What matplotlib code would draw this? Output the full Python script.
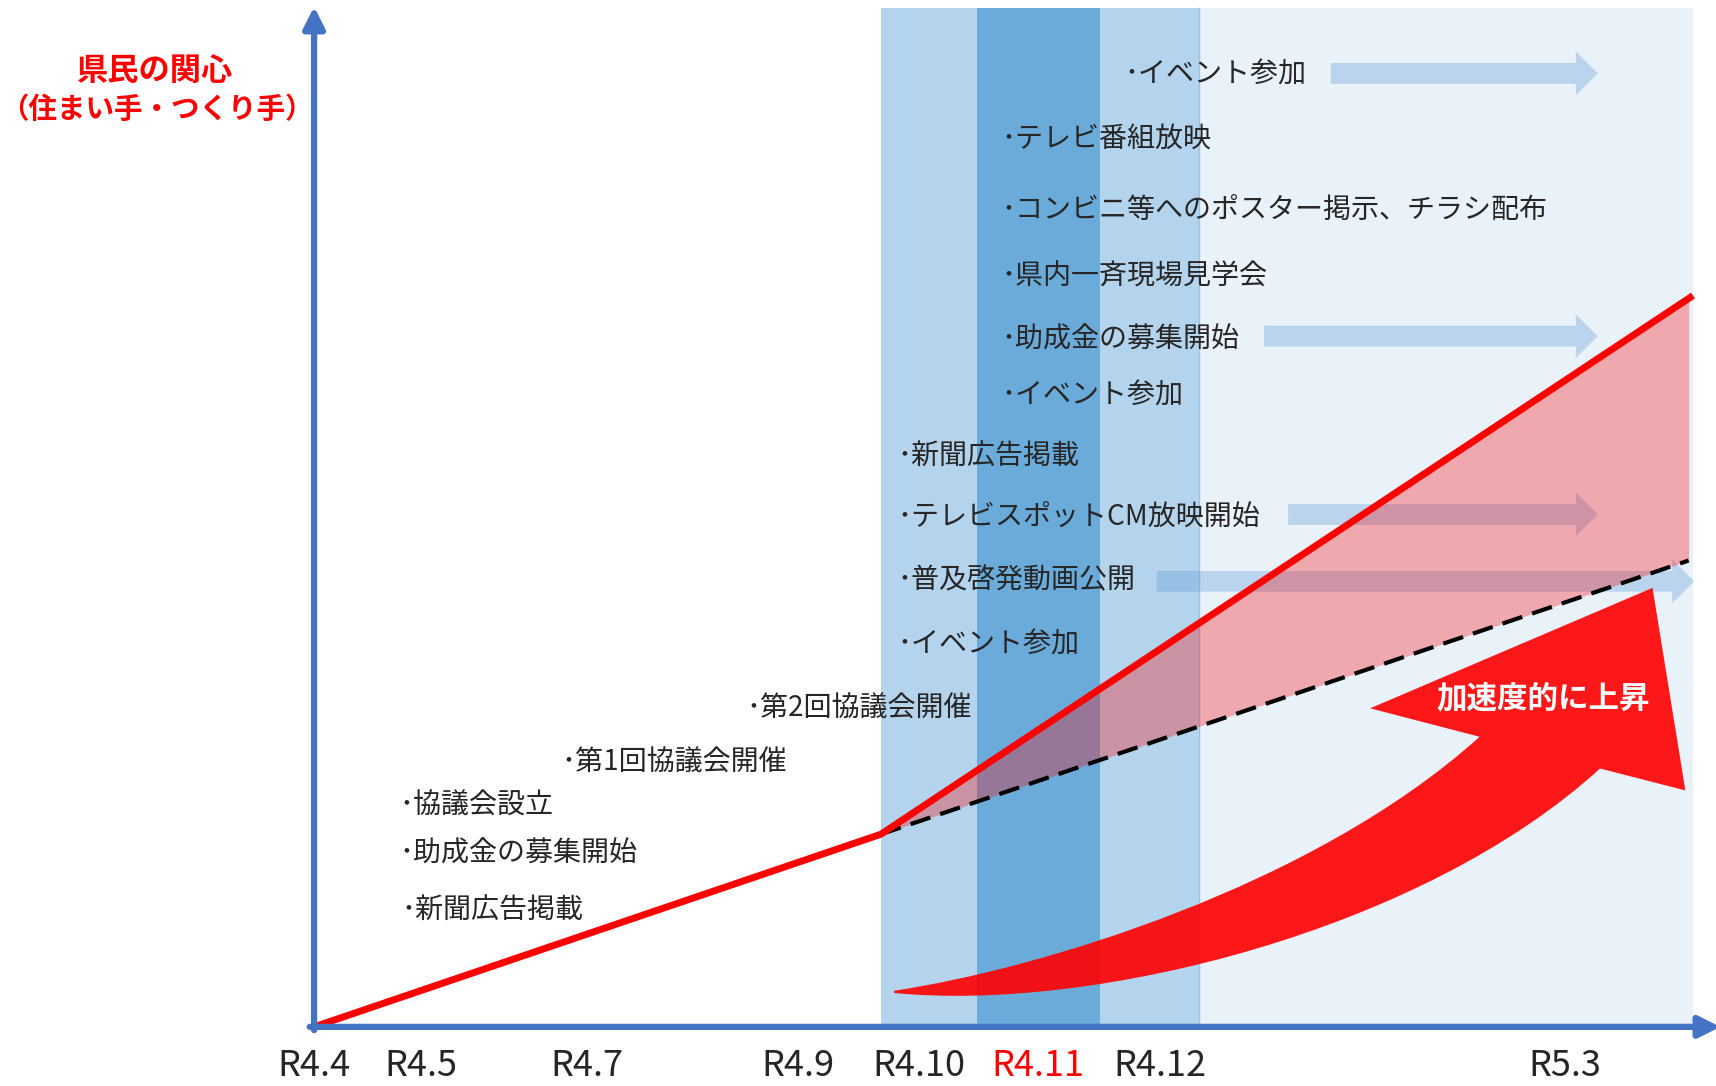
import numpy as np
import matplotlib
matplotlib.use('Agg')
import matplotlib.pyplot as plt
from matplotlib.path import Path
from matplotlib.patches import PathPatch, FancyArrow

plt.rcParams['font.family'] = ['Noto Sans CJK JP', 'DejaVu Sans']

# axis months (non-uniform conceptual time axis)
months = ['R4.4', 'R4.5', 'R4.7', 'R4.9', 'R4.10', 'R4.11', 'R4.12', 'R5.3']
month_x = [287, 385, 536, 729, 840, 948, 1060, 1430]

# interest line: actual and baseline trend
actual_x = [287, 805, 1547]
actual_y = [0, 176, 668]
trend_x = [805, 1543]
trend_y = [176, 426]

# event texts with positions
events = ['･イベント参加', '･テレビ番組放映', '･コンビニ等へのポスター掲示、チラシ配布',
          '･県内一斉現場見学会', '･助成金の募集開始', '･イベント参加',
          '･新聞広告掲載', '･テレビスポットCM放映開始', '･普及啓発動画公開', '･イベント参加',
          '･第2回協議会開催', '･第1回協議会開催', '･協議会設立', '･助成金の募集開始', '･新聞広告掲載']
event_x = [1027, 915, 915, 915, 915, 915, 820, 820, 820, 820, 682, 513, 365, 365, 367]
event_y = [870, 811, 746, 685, 628, 577, 521, 466, 408, 349, 291, 241, 202, 158, 106]

# continuing-activity arrows (start, end, level)
cont_start = [1216, 1155, 1177, 1057]
cont_end = [1460, 1460, 1460, 1548]
cont_y = [871, 631, 468, 407]

# background period bands
band_left = [805, 893, 1005, 1096]
band_right = [893, 1005, 1096, 1547]
band_color = ['#B4D3EC', '#6BABDA', '#B4D3EC', '#E9F1F9']
band_top = 931

axis_blue = '#4472C4'

fig = plt.figure(figsize=(17.16, 10.86), dpi=100)
ax = fig.add_axes([0, 0, 1, 1])
ax.set_xlim(0, 1568)
ax.set_ylim(-54, 938)
ax.axis('off')

# bands
for l, r, c in zip(band_left, band_right, band_color):
    ax.bar(l, band_top, width=r - l, bottom=0, align='edge', color=c, zorder=0)
ax.plot([1096, 1096], [0, band_top], color='#9DC3E6', lw=1, zorder=0.5)

# continuing arrows
for s, e, y in zip(cont_start, cont_end, cont_y):
    ax.add_patch(FancyArrow(s, y, e - s, 0, width=19, head_width=40, head_length=20,
                            length_includes_head=True, color='#5B9BD5', alpha=0.33,
                            lw=0, zorder=1))

# pink gap between actual and trend
fx = np.array(trend_x, dtype=float)
ax.fill_between(fx, np.interp(fx, trend_x, trend_y), np.interp(fx, actual_x, actual_y),
                color='red', alpha=0.3, lw=0, zorder=2)

ax.plot(trend_x, trend_y, color='black', lw=3, dashes=(5, 2.5), zorder=3)
ax.plot(actual_x, actual_y, color='#FF0000', lw=5, solid_capstyle='butt', zorder=3)

# big curved arrow
verts = [(817, 33), (950, 53), (1200, 128), (1352, 265),
         (1252, 291), (1510, 401), (1540, 216), (1462, 236),
         (1300, 88), (1000, 13), (817, 31), (817, 33)]
codes = [Path.MOVETO, Path.CURVE4, Path.CURVE4, Path.CURVE4,
         Path.LINETO, Path.LINETO, Path.LINETO, Path.LINETO,
         Path.CURVE4, Path.CURVE4, Path.CURVE4, Path.CLOSEPOLY]
ax.add_patch(PathPatch(Path(verts, codes), facecolor='#FF0000', alpha=0.9, lw=0, zorder=4))
ax.text(1410, 300, '加速度的に上昇', color='white', fontsize=22, fontweight='bold',
        ha='center', va='center', zorder=5)

# events
for t, x, y in zip(events, event_x, event_y):
    ax.text(x, y, t, fontsize=20.2, color='#262626', ha='left', va='center', zorder=5)

# axes with arrows
ax.annotate('', xy=(287, 932), xytext=(287, -3), annotation_clip=False,
            arrowprops=dict(arrowstyle='-|>', color=axis_blue, lw=4.5, mutation_scale=32,
                            shrinkA=0, shrinkB=0), zorder=6)
ax.annotate('', xy=(1572, 0), xytext=(283, 0), annotation_clip=False,
            arrowprops=dict(arrowstyle='-|>', color=axis_blue, lw=4.5, mutation_scale=32,
                            shrinkA=0, shrinkB=0), zorder=6)

# y label
ax.text(142, 873, '県民の関心', color='#FF0000', fontsize=22.5, fontweight='bold',
        ha='center', va='center')
ax.text(143, 838, '（住まい手・つくり手）', color='#FF0000', fontsize=20.5, fontweight='bold',
        ha='center', va='center')

# month labels
for m, x in zip(months, month_x):
    ax.text(x, -52.5, m, fontsize=26, ha='center', va='bottom',
            color='#FF0000' if m == 'R4.11' else '#262626')

fig.savefig('out.png', dpi=100)
